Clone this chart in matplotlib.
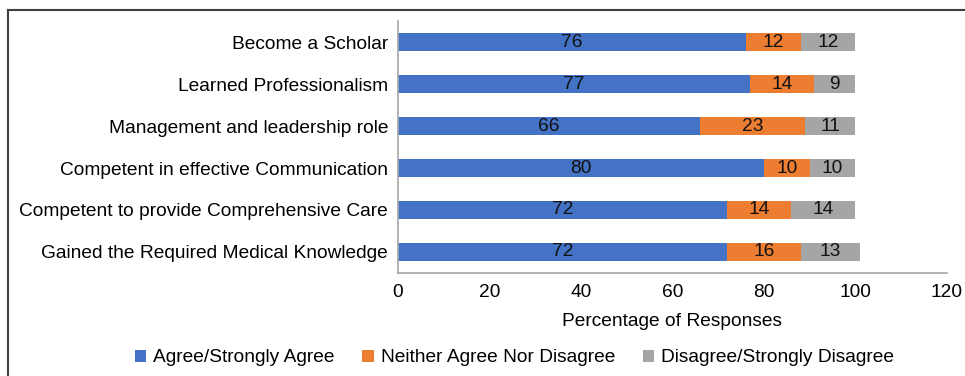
import matplotlib
matplotlib.use("Agg")
import matplotlib.pyplot as plt
import numpy as np
from matplotlib.lines import Line2D

plt.rcParams['font.family'] = ['Liberation Sans', 'DejaVu Sans']

categories = [
    "Become a Scholar",
    "Learned Professionalism",
    "Management and leadership role",
    "Competent in effective Communication",
    "Competent to provide Comprehensive Care",
    "Gained the Required Medical Knowledge",
]
agree = [76, 77, 66, 80, 72, 72]
neutral = [12, 14, 23, 10, 14, 16]
disagree = [12, 9, 11, 10, 14, 13]
series_names = ["Agree/Strongly Agree", "Neither Agree Nor Disagree",
                "Disagree/Strongly Disagree"]
colors = ["#4472C4", "#ED7D31", "#A5A5A5"]
xticks = [0, 20, 40, 60, 80, 100, 120]

fs = 13.8
fig = plt.figure(figsize=(9.65, 3.76), dpi=100)
ax = fig.add_axes([0.4124, 0.274, 0.9813 - 0.4124, 0.944 - 0.274])

y = np.arange(len(categories))
left = np.zeros(len(categories))
for vals, name, col in zip([agree, neutral, disagree], series_names, colors):
    bars = ax.barh(y, vals, left=left, height=0.43, color=col, label=name)
    ax.bar_label(bars, labels=[str(v) for v in vals], label_type='center',
                 fontsize=fs, color='#111111')
    left += np.array(vals)

ax.set_ylim(len(categories) - 0.5, -0.5)
ax.set_xlim(0, 120)
ax.set_yticks(y)
ax.set_yticklabels(categories, fontsize=fs)
ax.set_xticks(xticks)
ax.set_xticklabels([str(t) for t in xticks], fontsize=fs)
ax.tick_params(axis='x', length=0, pad=8)
ax.tick_params(axis='y', length=0, pad=7)
for s in ['top', 'right']:
    ax.spines[s].set_visible(False)
for s in ['left', 'bottom']:
    ax.spines[s].set_color('#A6A6A6')
    ax.spines[s].set_linewidth(1.2)
ax.set_xlabel("Percentage of Responses", fontsize=fs, labelpad=8.5)

ax.legend(loc='lower center', bbox_to_anchor=(0.533, 0.0), bbox_transform=fig.transFigure,
          ncol=3, frameon=False, fontsize=fs, handlelength=0.6, handleheight=0.6,
          handletextpad=0.35, columnspacing=1.45, borderaxespad=0.1)

# frame lines along the top and left edge of the figure
fig.add_artist(Line2D([8 / 965, 1], [1 - 10 / 376] * 2, transform=fig.transFigure,
                      color='#404040', linewidth=1.5))
fig.add_artist(Line2D([8 / 965] * 2, [0, 1 - 10 / 376], transform=fig.transFigure,
                      color='#404040', linewidth=1.5))

fig.savefig("out.png", dpi=100)
